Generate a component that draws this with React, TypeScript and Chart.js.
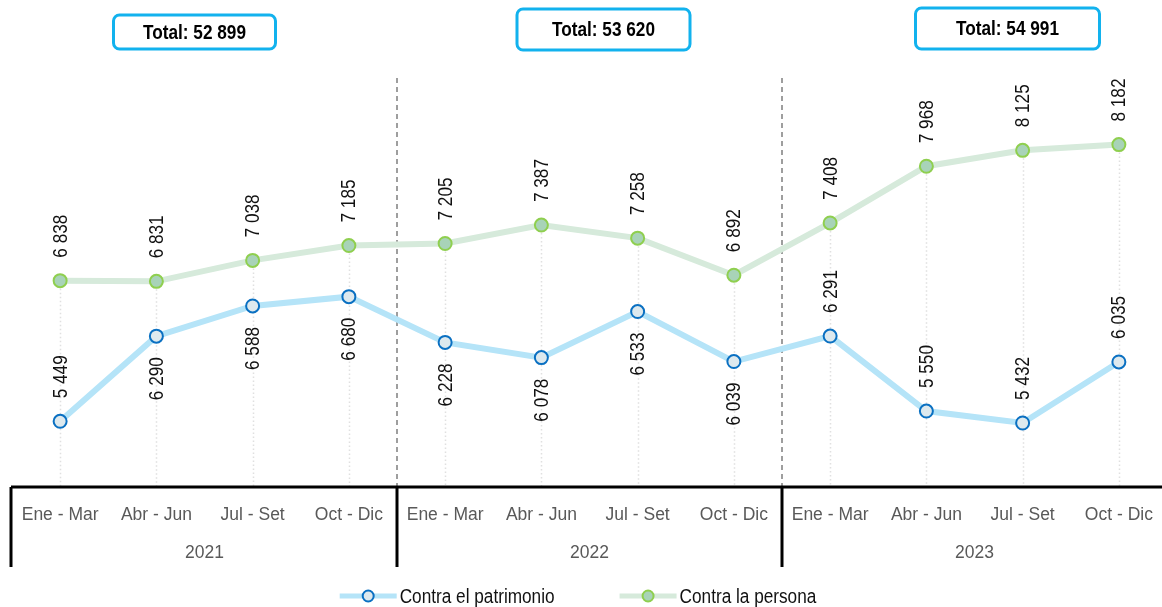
import React, { useEffect, useRef } from 'react';
import { Chart, registerables } from 'chart.js';

Chart.register(...registerables);

const quarters = [
  'Ene - Mar', 'Abr - Jun', 'Jul - Set', 'Oct - Dic',
  'Ene - Mar', 'Abr - Jun', 'Jul - Set', 'Oct - Dic',
  'Ene - Mar', 'Abr - Jun', 'Jul - Set', 'Oct - Dic',
];
const years = ['2021', '2022', '2023'];
const patrimonio = [5449, 6290, 6588, 6680, 6228, 6078, 6533, 6039, 6291, 5550, 5432, 6035];
const persona = [6838, 6831, 7038, 7185, 7205, 7387, 7258, 6892, 7408, 7968, 8125, 8182];
const totals = ['Total: 52 899', 'Total: 53 620', 'Total: 54 991'];
const patrimonioLabelAbove = [true, false, false, false, false, false, false, false, true, true, true, true];

const FONT = '"Liberation Sans", Arial, sans-serif';
const NARROW = 0.86;
const BLUE_LINE = '#b5e4f8';
const BLUE_BORDER = '#0a70c2';
const BLUE_FILL = '#dde9ee';
const GREEN_LINE = '#d6eadb';
const GREEN_BORDER = '#8fcf4f';
const GREEN_FILL = '#a8d3b8';

// layout only
const X_EXTENT = 1155; // x-scale width, extends a little past the canvas edge like the original
const boxWidths = [162, 173, 184];
const boxHeights = [34, 41, 41];
const boxTops = [15, 9, 8];
const boxShift = [-10, 14, 33];

const fmt = (n: number) => String(n).replace(/\B(?=(\d{3})+(?!\d))/g, ' ');

function roundRect(ctx: CanvasRenderingContext2D, x: number, y: number, w: number, h: number, r: number) {
  ctx.beginPath();
  ctx.moveTo(x + r, y);
  ctx.lineTo(x + w - r, y);
  ctx.arcTo(x + w, y, x + w, y + r, r);
  ctx.lineTo(x + w, y + h - r);
  ctx.arcTo(x + w, y + h, x + w - r, y + h, r);
  ctx.lineTo(x + r, y + h);
  ctx.arcTo(x, y + h, x, y + h - r, r);
  ctx.lineTo(x, y + r);
  ctx.arcTo(x, y, x + r, y, r);
  ctx.closePath();
}

function narrowText(ctx: CanvasRenderingContext2D, text: string, x: number, y: number, align: CanvasTextAlign) {
  ctx.save();
  ctx.translate(x, y);
  ctx.scale(NARROW, 1);
  ctx.textAlign = align;
  ctx.fillText(text, 0, 0);
  ctx.restore();
}

const decor = {
  id: 'decor',
  afterLayout(chart: any) {
    ['x', 'x2'].forEach((id) => {
      const s = chart.scales[id];
      s.right = s.left + X_EXTENT;
      s.width = X_EXTENT;
      s.configure();
    });
  },
  beforeDatasetsDraw(chart: any) {
    const { ctx, chartArea, scales } = chart;
    const x = scales.x;
    const y = scales.y;
    ctx.save();
    // faint dotted drop lines
    ctx.strokeStyle = '#e0e0e0';
    ctx.lineWidth = 1.5;
    ctx.setLineDash([1.5, 2.5]);
    for (let i = 0; i < quarters.length; i++) {
      const px = Math.round(x.getPixelForValue(i)) + 0.5;
      const top = Math.min(y.getPixelForValue(persona[i]), y.getPixelForValue(patrimonio[i]));
      ctx.beginPath();
      ctx.moveTo(px, top);
      ctx.lineTo(px, chartArea.bottom);
      ctx.stroke();
    }
    // dashed year separators
    ctx.strokeStyle = '#7f7f7f';
    ctx.lineWidth = 1.5;
    ctx.setLineDash([5, 4]);
    for (let g = 1; g < years.length; g++) {
      const sx = (x.getPixelForValue(4 * g - 1) + x.getPixelForValue(4 * g)) / 2;
      ctx.beginPath();
      ctx.moveTo(sx, 78);
      ctx.lineTo(sx, chartArea.bottom);
      ctx.stroke();
    }
    ctx.restore();
  },
  afterDatasetsDraw(chart: any) {
    const { ctx } = chart;
    ctx.save();
    ctx.font = `20px ${FONT}`;
    ctx.fillStyle = '#111';
    ctx.textBaseline = 'middle';
    const metaP = chart.getDatasetMeta(0);
    const metaG = chart.getDatasetMeta(1);
    const drawLabel = (px: number, py: number, text: string, above: boolean) => {
      ctx.save();
      ctx.translate(px, py);
      ctx.rotate(-Math.PI / 2);
      ctx.scale(NARROW, 1);
      if (above) {
        ctx.textAlign = 'left';
        ctx.fillText(text, 23 / NARROW, 1);
      } else {
        ctx.textAlign = 'right';
        ctx.fillText(text, -21 / NARROW, 1);
      }
      ctx.restore();
    };
    metaP.data.forEach((pt: any, i: number) => drawLabel(pt.x, pt.y, fmt(patrimonio[i]), patrimonioLabelAbove[i]));
    metaG.data.forEach((pt: any, i: number) => drawLabel(pt.x, pt.y, fmt(persona[i]), true));
    ctx.restore();
  },
  afterDraw(chart: any) {
    const { ctx, chartArea, scales, width } = chart;
    const x = scales.x;
    ctx.save();
    // axis line
    ctx.strokeStyle = '#000';
    ctx.lineWidth = 3;
    ctx.beginPath();
    ctx.moveTo(chartArea.left - 1, chartArea.bottom);
    ctx.lineTo(width, chartArea.bottom);
    ctx.stroke();
    // vertical group separators below axis
    const seps = [chartArea.left - 1];
    for (let g = 1; g < years.length; g++) {
      seps.push((x.getPixelForValue(4 * g - 1) + x.getPixelForValue(4 * g)) / 2);
    }
    seps.forEach((sx) => {
      ctx.beginPath();
      ctx.moveTo(sx, chartArea.bottom);
      ctx.lineTo(sx, chartArea.bottom + 80);
      ctx.stroke();
    });
    // total boxes
    for (let g = 0; g < years.length; g++) {
      const cx = (x.getPixelForValue(4 * g) + x.getPixelForValue(4 * g + 3)) / 2 + boxShift[g];
      const w = boxWidths[g];
      const h = boxHeights[g];
      const top = boxTops[g];
      roundRect(ctx, cx - w / 2, top, w, h, 6);
      ctx.fillStyle = '#fff';
      ctx.fill();
      ctx.lineWidth = 3;
      ctx.strokeStyle = '#12b2ee';
      ctx.stroke();
      ctx.fillStyle = '#000';
      ctx.font = `bold 20px ${FONT}`;
      ctx.textBaseline = 'middle';
      narrowText(ctx, totals[g], cx, top + h / 2 + 1, 'center');
    }
    // legend
    const items = [
      { text: 'Contra el patrimonio', line: BLUE_LINE, border: BLUE_BORDER, fill: BLUE_FILL },
      { text: 'Contra la persona', line: GREEN_LINE, border: GREEN_BORDER, fill: GREEN_FILL },
    ];
    ctx.font = `20px ${FONT}`;
    const lineW = 57;
    const gap = 3;
    const spacing = 65;
    const widths = items.map((it) => lineW + gap + ctx.measureText(it.text).width * NARROW);
    const total = widths.reduce((a, b) => a + b, 0) + spacing;
    let lx = width / 2 - 3 - total / 2;
    const ly = 596;
    items.forEach((it, i) => {
      ctx.strokeStyle = it.line;
      ctx.lineWidth = 5;
      ctx.setLineDash([]);
      ctx.beginPath();
      ctx.moveTo(lx, ly);
      ctx.lineTo(lx + lineW, ly);
      ctx.stroke();
      ctx.beginPath();
      ctx.arc(lx + lineW / 2, ly, 5.5, 0, Math.PI * 2);
      ctx.fillStyle = it.fill;
      ctx.fill();
      ctx.lineWidth = 2;
      ctx.strokeStyle = it.border;
      ctx.stroke();
      ctx.fillStyle = '#111';
      ctx.textBaseline = 'middle';
      narrowText(ctx, it.text, lx + lineW + gap, ly + 1, 'left');
      lx += widths[i] + spacing;
    });
    ctx.restore();
  },
};

export default function App() {
  const ref = useRef<HTMLCanvasElement>(null);
  useEffect(() => {
    if (!ref.current) return;
    const chart = new Chart(ref.current, {
      type: 'line',
      data: {
        labels: quarters,
        datasets: [
          {
            label: 'Contra el patrimonio',
            data: patrimonio,
            borderColor: BLUE_LINE,
            borderWidth: 6,
            pointRadius: 6.5,
            pointBorderWidth: 2,
            pointBorderColor: BLUE_BORDER,
            pointBackgroundColor: BLUE_FILL,
            tension: 0,
            clip: false,
          },
          {
            label: 'Contra la persona',
            data: persona,
            borderColor: GREEN_LINE,
            borderWidth: 6,
            pointRadius: 6.5,
            pointBorderWidth: 2,
            pointBorderColor: GREEN_BORDER,
            pointBackgroundColor: GREEN_FILL,
            tension: 0,
            clip: false,
          },
        ],
      },
      options: {
        responsive: false,
        animation: false,
        devicePixelRatio: 1,
        layout: { autoPadding: false, padding: { top: 82, left: 12, right: 0, bottom: 44 } },
        plugins: { legend: { display: false }, tooltip: { enabled: false } },
        scales: {
          y: { display: false, min: 4800, max: 8800 },
          x: {
            type: 'category',
            position: 'bottom',
            weight: 0,
            offset: true,
            grid: { display: false, drawTicks: false },
            border: { display: false },
            ticks: {
              autoSkip: false,
              maxRotation: 0,
              padding: 0,
              color: '#595959',
              font: { family: FONT, size: 17.5, lineHeight: '56px' },
            },
          },
          x2: {
            type: 'category',
            position: 'bottom',
            weight: 1,
            labels: years,
            offset: true,
            grid: { display: false, drawTicks: false },
            border: { display: false },
            ticks: {
              autoSkip: false,
              maxRotation: 0,
              padding: 0,
              color: '#595959',
              font: { family: FONT, size: 17.5, lineHeight: '20px' },
            },
          },
        },
      },
      plugins: [decor],
    });
    return () => chart.destroy();
  }, []);
  return (
    <div style={{ position: 'fixed', left: 0, top: 0, width: 1162, height: 607, background: '#fff' }}>
      <canvas ref={ref} width={1162} height={607} style={{ width: 1162, height: 607 }} />
    </div>
  );
}
